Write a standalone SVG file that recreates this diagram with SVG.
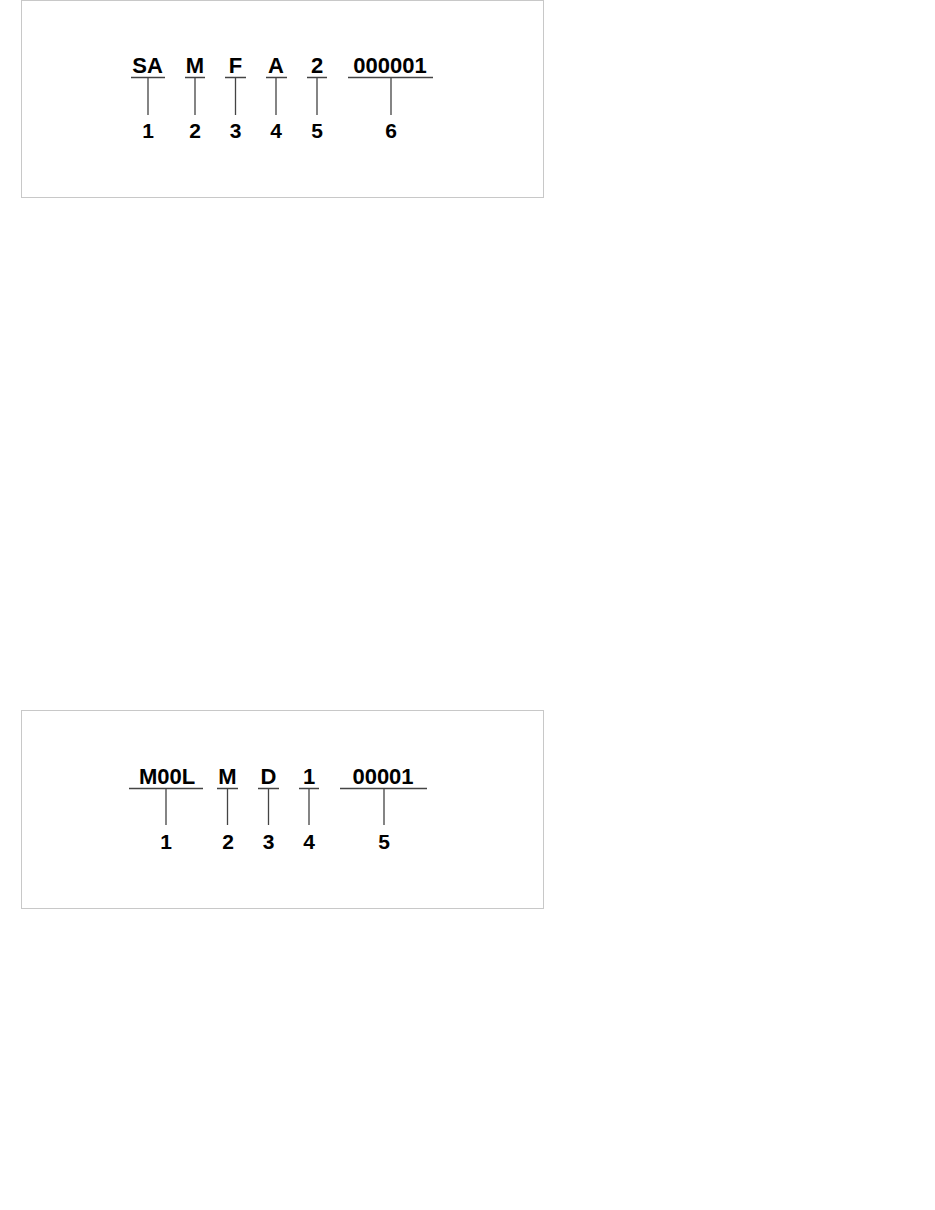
<svg xmlns="http://www.w3.org/2000/svg" width="935" height="1210" viewBox="0 0 935 1210">
<style>
.frame{fill:#fff;stroke:#c8c8c8;stroke-width:1}
.ln{stroke:#444;stroke-width:1.3;fill:none}
.code{font-family:"Liberation Sans",Arial,sans-serif;font-weight:bold;font-size:22px;fill:#000;text-anchor:middle}
.num{font-family:"Liberation Sans",Arial,sans-serif;font-weight:bold;font-size:21px;fill:#000;text-anchor:middle}
</style>
<rect width="935" height="1210" fill="#fff"/>
<g id="panel1">
<rect class="frame" x="21.5" y="0.5" width="522" height="197"/>
<g id="p1-codes">
<text class="code" x="147.5" y="73">SA</text>
<text class="code" x="195" y="73">M</text>
<text class="code" x="235.5" y="73">F</text>
<text class="code" x="276" y="73">A</text>
<text class="code" x="317" y="73">2</text>
<text class="code" x="390" y="73">000001</text>
</g>
<g id="p1-connectors">
<path class="ln" d="M131 77.5H165M148 77.5V115"/>
<path class="ln" d="M185 77.5H205M195 77.5V115"/>
<path class="ln" d="M225 77.5H246M235.5 77.5V115"/>
<path class="ln" d="M266 77.5H287M276 77.5V115"/>
<path class="ln" d="M307 77.5H327M317 77.5V115"/>
<path class="ln" d="M348 77.5H433M391 77.5V115"/>
</g>
<g id="p1-numbers">
<text class="num" x="148" y="138">1</text>
<text class="num" x="195" y="138">2</text>
<text class="num" x="235.5" y="138">3</text>
<text class="num" x="276" y="138">4</text>
<text class="num" x="317" y="138">5</text>
<text class="num" x="391" y="138">6</text>
</g>
</g>
<g id="panel2">
<rect class="frame" x="21.5" y="710.5" width="522" height="198"/>
<g id="p2-codes">
<text class="code" x="167" y="783.5">M00L</text>
<text class="code" x="227.5" y="783.5">M</text>
<text class="code" x="268.5" y="783.5">D</text>
<text class="code" x="309" y="783.5">1</text>
<text class="code" x="383" y="783.5">00001</text>
</g>
<g id="p2-connectors">
<path class="ln" d="M129 788.5H203M166 788.5V825"/>
<path class="ln" d="M217 788.5H238M227.5 788.5V825"/>
<path class="ln" d="M258 788.5H279M268.5 788.5V825"/>
<path class="ln" d="M299 788.5H319M309 788.5V825"/>
<path class="ln" d="M340 788.5H427M384 788.5V825"/>
</g>
<g id="p2-numbers">
<text class="num" x="166" y="848.5">1</text>
<text class="num" x="228" y="848.5">2</text>
<text class="num" x="268.5" y="848.5">3</text>
<text class="num" x="309" y="848.5">4</text>
<text class="num" x="384" y="848.5">5</text>
</g>
</g>
</svg>
